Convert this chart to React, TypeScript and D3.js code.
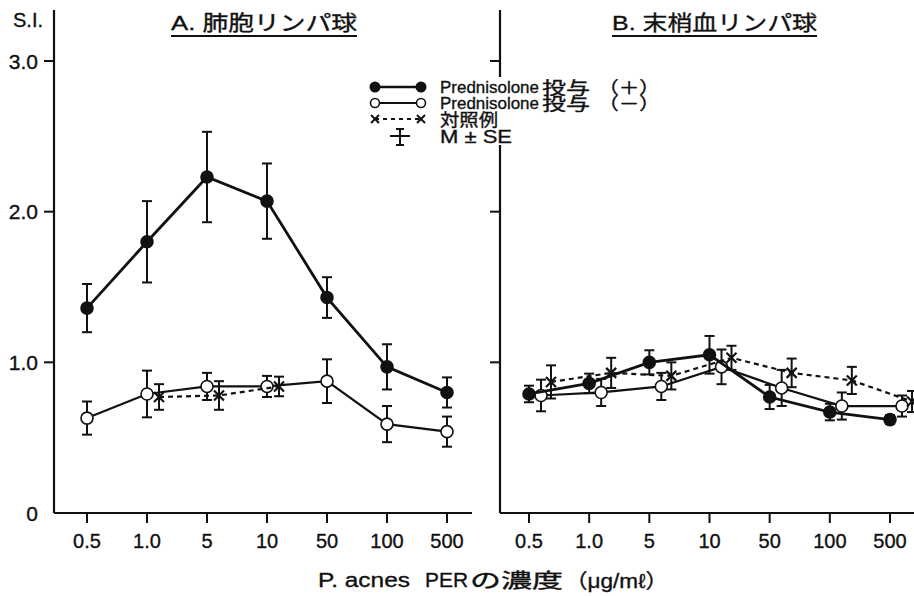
import React from "react";
import * as d3 from "d3";

// P. acnes PER concentrations (µg/mℓ)
const concentrations = ["0.5", "1.0", "5", "10", "50", "100", "500"];
const yTicks = [0, 1, 2, 3];
const yTickLabels = ["0", "1.0", "2.0", "3.0"];

// A. alveolar lymphocytes
const alvPlusMean = [1.36, 1.8, 2.23, 2.07, 1.43, 0.97, 0.8];
const alvPlusSE = [0.16, 0.27, 0.3, 0.25, 0.135, 0.15, 0.1];
const alvMinusMean = [0.63, 0.79, 0.84, 0.84, 0.875, 0.59, 0.54];
const alvMinusSE = [0.11, 0.155, 0.09, 0.07, 0.145, 0.12, 0.1];
const alvCtrlConc = ["1.0", "5", "10"];
const alvCtrlMean = [0.77, 0.78, 0.84];
const alvCtrlSE = [0.085, 0.095, 0.065];

// B. peripheral blood lymphocytes
const pbPlusMean = [0.79, 0.86, 1.0, 1.05, 0.77, 0.67, 0.62];
const pbPlusSE = [0.055, 0.065, 0.08, 0.125, 0.08, 0.055, 0.03];
const pbMinusMean = [0.78, 0.8, 0.84, 0.97, 0.83, 0.71, 0.71];
const pbMinusSE = [0.105, 0.09, 0.09, 0.115, 0.12, 0.09, 0.07];
const pbCtrlConc = concentrations;
const pbCtrlMean = [0.87, 0.93, 0.91, 1.03, 0.93, 0.88, 0.74];
const pbCtrlSE = [0.11, 0.1, 0.09, 0.08, 0.095, 0.09, 0.07];

const W = 914;
const H = 596;
const INK = "#111";
const SANS = "'Liberation Sans', Arial, 'Noto Sans CJK JP', sans-serif";
// a hairline outline gives the type a slightly heavier, print-like weight
const INKED = { fill: INK, stroke: INK, strokeWidth: 0.35 };

const y = d3.scaleLinear().domain([0, 3]).range([513, 61]);

type Pt = { c: string; m: number; se: number };
const zipPts = (c: string[], m: number[], se: number[]): Pt[] =>
  c.map((k, i) => ({ c: k, m: m[i], se: se[i] }));

// Text squeezed or stretched to a set width, starting at x.
function FitText({
  x,
  y: ty,
  len,
  size,
  children,
}: {
  x: number;
  y: number;
  len: number;
  size: number;
  children: React.ReactNode;
}) {
  return (
    <text
      x={x}
      y={ty}
      textLength={len}
      lengthAdjust="spacingAndGlyphs"
      fontFamily={SANS}
      fontSize={size}
      {...INKED}
    >
      {children}
    </text>
  );
}

function ErrorBars({ pts, x, dx }: { pts: Pt[]; x: d3.ScalePoint<string>; dx: number }) {
  return (
    <g stroke={INK} strokeWidth={2}>
      {pts.map((p, i) => {
        const cx = (x(p.c) as number) + dx;
        const y1 = y(p.m + p.se);
        const y0 = y(p.m - p.se);
        return (
          <g key={i}>
            <line x1={cx} x2={cx} y1={y1} y2={y0} />
            <line x1={cx - 5} x2={cx + 5} y1={y1} y2={y1} />
            <line x1={cx - 5} x2={cx + 5} y1={y0} y2={y0} />
          </g>
        );
      })}
    </g>
  );
}

function Series({
  pts,
  x,
  dx,
  kind,
}: {
  pts: Pt[];
  x: d3.ScalePoint<string>;
  dx: number;
  kind: "plus" | "minus" | "ctrl";
}) {
  const line = d3
    .line<Pt>()
    .x((p) => (x(p.c) as number) + dx)
    .y((p) => y(p.m));
  const width = kind === "plus" ? 2.8 : 2.2;
  return (
    <g>
      <path
        d={line(pts) || ""}
        fill="none"
        stroke={INK}
        strokeWidth={width}
        strokeDasharray={kind === "ctrl" ? "5,4" : undefined}
      />
      <ErrorBars pts={pts} x={x} dx={dx} />
      {pts.map((p, i) => {
        const cx = (x(p.c) as number) + dx;
        const cy = y(p.m);
        if (kind === "ctrl") {
          const s = 5;
          return (
            <g key={i} stroke={INK} strokeWidth={2.2}>
              <line x1={cx - s} x2={cx + s} y1={cy - s} y2={cy + s} />
              <line x1={cx - s} x2={cx + s} y1={cy + s} y2={cy - s} />
            </g>
          );
        }
        return (
          <circle
            key={i}
            cx={cx}
            cy={cy}
            r={6}
            fill={kind === "plus" ? INK : "#fff"}
            stroke={INK}
            strokeWidth={1.6}
          />
        );
      })}
    </g>
  );
}

function Panel({
  axisX,
  xEnd,
  range,
  title,
  titleX,
  titleLen,
  plus,
  minus,
  ctrl,
  offsets,
  showLabels,
}: {
  axisX: number;
  xEnd: number;
  range: [number, number];
  title: string;
  titleX: number;
  titleLen: number;
  plus: Pt[];
  minus: Pt[];
  ctrl: Pt[];
  offsets: [number, number, number];
  showLabels: boolean;
}) {
  const x = d3.scalePoint<string>().domain(concentrations).range(range).padding(0);
  return (
    <g>
      {/* y axis */}
      <line x1={axisX} x2={axisX} y1={10} y2={y(0)} stroke={INK} strokeWidth={2.2} />
      {yTicks.slice(1).map((t, i) => (
        <line key={i} x1={axisX - 10} x2={axisX} y1={y(t)} y2={y(t)} stroke={INK} strokeWidth={2} />
      ))}
      {showLabels &&
        yTicks.map((t, i) => (
          <text
            key={i}
            x={38}
            y={y(t)}
            dy="0.36em"
            textAnchor="end"
            fontFamily={SANS}
            fontSize={21}
            {...INKED}
          >
            {yTickLabels[i]}
          </text>
        ))}
      {/* x axis */}
      <line x1={axisX} x2={xEnd} y1={y(0)} y2={y(0)} stroke={INK} strokeWidth={2.2} />
      {concentrations.map((c) => (
        <g key={c}>
          <line x1={x(c)} x2={x(c)} y1={y(0)} y2={y(0) + 10} stroke={INK} strokeWidth={2} />
          <text x={x(c)} y={548} textAnchor="middle" fontFamily={SANS} fontSize={20} {...INKED}>
            {c}
          </text>
        </g>
      ))}
      {/* title */}
      <FitText x={titleX} y={30} len={titleLen} size={21}>
        {title}
      </FitText>
      <line x1={titleX} x2={titleX + titleLen} y1={36} y2={36} stroke={INK} strokeWidth={2.2} />
      <Series pts={minus} x={x} dx={offsets[1]} kind="minus" />
      <Series pts={ctrl} x={x} dx={offsets[2]} kind="ctrl" />
      <Series pts={plus} x={x} dx={offsets[0]} kind="plus" />
    </g>
  );
}

function Legend() {
  const lx0 = 375;
  const lx1 = 421;
  const rows = [87, 103, 119, 137];
  const base = (r: number) => r + 6;
  return (
    <g>
      <rect x={366} y={77} width={300} height={68} fill="#fff" />
      <line x1={lx0} x2={lx1} y1={rows[0]} y2={rows[0]} stroke={INK} strokeWidth={2.6} />
      <circle cx={lx0} cy={rows[0]} r={5.5} fill={INK} />
      <circle cx={lx1} cy={rows[0]} r={5.5} fill={INK} />
      <line x1={lx0} x2={lx1} y1={rows[1]} y2={rows[1]} stroke={INK} strokeWidth={2} />
      <circle cx={lx0} cy={rows[1]} r={4.5} fill="#fff" stroke={INK} strokeWidth={1.6} />
      <circle cx={lx1} cy={rows[1]} r={4.5} fill="#fff" stroke={INK} strokeWidth={1.6} />
      <line x1={lx0} x2={lx1} y1={rows[2]} y2={rows[2]} stroke={INK} strokeWidth={2} strokeDasharray="4,4" />
      {[lx0, lx1].map((cx) => (
        <g key={cx} stroke={INK} strokeWidth={2}>
          <line x1={cx - 4} x2={cx + 4} y1={rows[2] - 4} y2={rows[2] + 4} />
          <line x1={cx - 4} x2={cx + 4} y1={rows[2] + 4} y2={rows[2] - 4} />
        </g>
      ))}
      <g stroke={INK} strokeWidth={2}>
        <line x1={400} x2={400} y1={129} y2={145} />
        <line x1={396} x2={404} y1={129} y2={129} />
        <line x1={396} x2={404} y1={145} y2={145} />
        <line x1={390} x2={410} y1={136} y2={136} />
      </g>
      {/* Prednisolone rows: latin name, then the CJK part and full-width brackets */}
      {["（＋）", "（－）"].map((sign, i) => (
        <g key={i}>
          <FitText x={440} y={base(rows[i])} len={99} size={17}>
            Prednisolone
          </FitText>
          <FitText x={542} y={base(rows[i]) + 1} len={48} size={17}>
            投与
          </FitText>
          <FitText x={598} y={base(rows[i]) + 1} len={62} size={17}>
            {sign}
          </FitText>
        </g>
      ))}
      <FitText x={440} y={base(rows[2]) + 1} len={58} size={17}>
        対照例
      </FitText>
      <FitText x={440} y={base(rows[3])} len={72} size={18}>
        M ± SE
      </FitText>
    </g>
  );
}

export default function App() {
  const alvPlus = zipPts(concentrations, alvPlusMean, alvPlusSE);
  const alvMinus = zipPts(concentrations, alvMinusMean, alvMinusSE);
  const alvCtrl = zipPts(alvCtrlConc, alvCtrlMean, alvCtrlSE);
  const pbPlus = zipPts(concentrations, pbPlusMean, pbPlusSE);
  const pbMinus = zipPts(concentrations, pbMinusMean, pbMinusSE);
  const pbCtrl = zipPts(pbCtrlConc, pbCtrlMean, pbCtrlSE);
  return (
    <svg
      width={W}
      height={H}
      viewBox={`0 0 ${W} ${H}`}
      style={{ position: "absolute", left: 0, top: 0, background: "#fff" }}
    >
      <rect width={W} height={H} fill="#fff" />
      <text x={13} y={27} fontFamily={SANS} fontSize={20} {...INKED}>
        S.I.
      </text>
      <Panel
        axisX={54}
        xEnd={472}
        range={[87, 447]}
        title="A. 肺胞リンパ球"
        titleX={171}
        titleLen={186}
        plus={alvPlus}
        minus={alvMinus}
        ctrl={alvCtrl}
        offsets={[0, 0, 12]}
        showLabels={true}
      />
      <Panel
        axisX={500}
        xEnd={914}
        range={[529, 890]}
        title="B. 末梢血リンパ球"
        titleX={612}
        titleLen={205}
        plus={pbPlus}
        minus={pbMinus}
        ctrl={pbCtrl}
        offsets={[0, 12, 22]}
        showLabels={false}
      />
      <Legend />
      {/* x-axis title */}
      <FitText x={318} y={587} len={92} size={20}>
        P. acnes
      </FitText>
      <FitText x={425} y={587} len={43} size={20}>
        PER
      </FitText>
      <FitText x={470} y={588} len={93} size={20}>
        の濃度
      </FitText>
      <FitText x={565} y={588} len={103} size={20}>
        （μg/mℓ）
      </FitText>
    </svg>
  );
}
